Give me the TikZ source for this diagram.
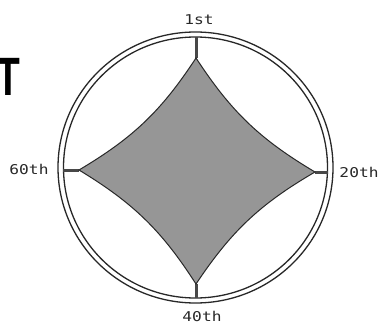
\documentclass[tikz,border=0pt]{standalone}
\usepackage{fontspec}
\setmainfont{Liberation Sans}
\newfontfamily\lblfont{DejaVu Sans Mono}
\definecolor{inkc}{RGB}{40,40,40}
\definecolor{starfill}{RGB}{150,150,150}
\begin{document}
\begin{tikzpicture}[x=1pt,y=-1pt,
  ringline/.style={draw=inkc,line width=1.3pt},
  spoke/.style={draw=inkc!85,line width=3pt},
  starshape/.style={draw=inkc,line width=1pt,fill=starfill},
  lbl/.style={inner sep=0pt,text=inkc,font=\lblfont\fontsize{13.5}{13.5}\selectfont}]
\useasboundingbox (0,0) rectangle (380,324);
\clip (0,0) rectangle (380,324);
\fill[white] (0,0) rectangle (380,324);
% rings
\coordinate (c) at (195.5,167.5);
\draw[ringline] (c) ellipse [x radius=137.5pt, y radius=135.5pt];
\draw[ringline] (c) ellipse [x radius=132pt, y radius=130.5pt];
% tips and ring points
\coordinate (ttop) at (196,58);
\coordinate (tright) at (315,172);
\coordinate (tbottom) at (196,284);
\coordinate (tleft) at (79,170);
\coordinate (rtop) at (196,37);
\coordinate (rright) at (328,172);
\coordinate (rbottom) at (196,298);
\coordinate (rleft) at (63,170);
% spokes
\draw[spoke] (rtop) -- (ttop);
\draw[spoke] (rright) -- (tright);
\draw[spoke] (rbottom) -- (tbottom);
\draw[spoke] (rleft) -- (tleft);
% star
\path[starshape] (ttop) to[bend right=13] (tright) to[bend right=13] (tbottom)
  to[bend right=13] (tleft) to[bend right=13] (ttop) -- cycle;
% labels
\node[lbl] (l1) at (199,20) {\scalebox{1.2}[1]{1st}};
\node[lbl] (l20) at (359,172) {\scalebox{1.2}[1]{20th}};
\node[lbl] (l40) at (202,316.5) {\scalebox{1.2}[1]{40th}};
\node[lbl] (l60) at (29,169) {\scalebox{1.2}[1]{60th}};
% big letter (cropped at the left edge, as in the reference)
\node[anchor=base,inner sep=0pt,font=\bfseries\fontsize{54}{54}\selectfont] (bigT) at (8,95) {\scalebox{0.72}[1]{T}};
\end{tikzpicture}
\end{document}
